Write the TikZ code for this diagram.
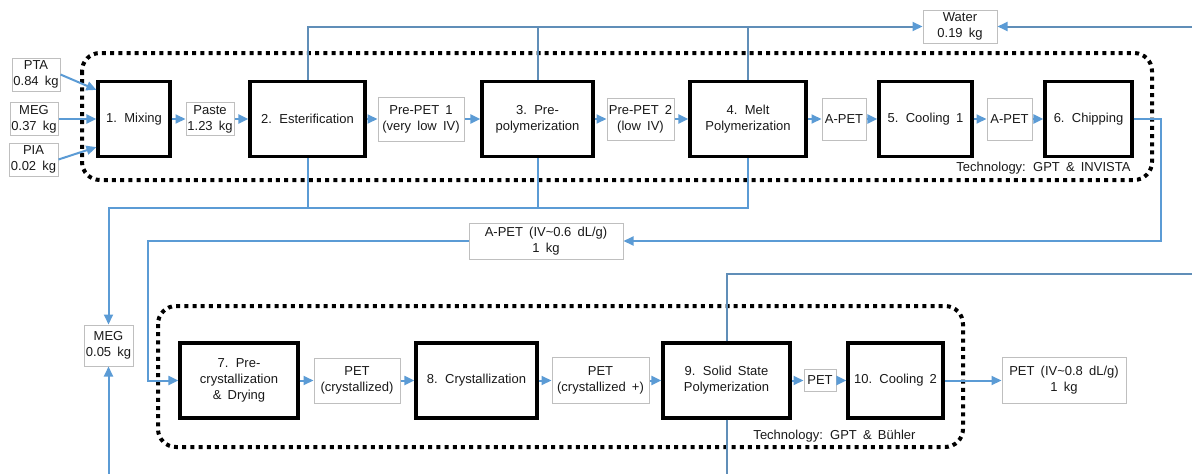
\documentclass[tikz,border=0pt]{standalone}
\usepackage{fontspec}
\setmainfont{Liberation Sans}[WordSpace=1.7]
\usetikzlibrary{arrows.meta}

\definecolor{flow}{RGB}{91,155,213}
\definecolor{wire}{RGB}{96,142,184}
\definecolor{edge}{RGB}{191,191,191}
\definecolor{ink}{RGB}{25,25,25}

\begin{document}
\begin{tikzpicture}[x=1pt,y=-1pt,
	font=\fontsize{13}{16}\selectfont,
	>={Triangle[length=10pt,width=9pt,color=flow]},
	unitbox/.style={draw=black,line width=3.2pt,minimum height=75pt,inner sep=0pt,align=center,text=ink},
	streambox/.style={draw=edge,line width=1pt,inner sep=0pt,align=center,text=ink},
	feed/.style={draw=flow,line width=2pt,->},
	pipe/.style={draw=wire,line width=2pt},
	techframe/.style={draw=black,line width=4pt,dash pattern=on 4pt off 4.2pt,rounded corners=18pt}]
				\useasboundingbox (0,0) rectangle (1192,474);
				
				% technology frames
				\draw[techframe] (82,53) rectangle (1152,180);
				\draw[techframe] (158,306) rectangle (963,447);
				\node[anchor=east,text=ink] (techA) at (1134,168) {Technology: GPT \& INVISTA};
				\node[anchor=east,text=ink] (techB) at (919,436) {Technology: GPT \& Bühler};
				
				% process units
				\foreach \n/\x/\w/\t in
				{mix/134/72/{1. Mixing}, est/307.5/115/{2. Esterification},
				 prepoly/537.5/111/{3. Pre-\\polymerization}, melt/748/116/{4. Melt\\Polymerization},
				 coolA/925.5/93/{5. Cooling 1}, chip/1088.5/87/{6. Chipping}}{
					\node[unitbox,minimum width=\w pt] (\n) at (\x,119) {\t};
				}
				\foreach \n/\x/\w/\t in
				{precry/239/118/{7. Pre-\\crystallization\\\& Drying}, cry/476.5/121/{8. Crystallization},
				 ssp/726.5/127/{9. Solid State\\Polymerization}, coolB/895.5/95/{10. Cooling 2}}{
					\node[unitbox,minimum width=\w pt] (\n) at (\x,380.5) {\t};
				}
				
				% streams
				\foreach \n/\x/\y/\w/\h/\t in
				{pta/36/74.5/48/33/{PTA\\0.84 kg}, megA/34/119/48/33/{MEG\\0.37 kg},
				 pia/33.5/159.5/49/33/{PIA\\0.02 kg}, paste/210/119/48/33/{Paste\\1.23 kg},
				 prepetA/421/119/86/44/{Pre-PET 1\\(very low IV)}, prepetB/640.5/119/67/42/{Pre-PET 2\\(low IV)},
				 apetA/844/119/44/42/{A-PET}, apetB/1009.5/119/45/42/{A-PET},
				 water/960/26.5/74/33/{Water\\0.19 kg}, apetiv/546/241/154/36/{A-PET (IV\textasciitilde 0.6 dL/g)\\1 kg},
				 megB/108.5/345.5/49/41/{MEG\\0.05 kg}, petc/357/380.5/86/45/{PET\\(crystallized)},
				 petcp/600.5/380.5/97/46/{PET\\(crystallized +)}, pet/820/380.5/32/22/{PET},
				 petiv/1064/380.5/124/46/{PET (IV\textasciitilde 0.8 dL/g)\\1 kg}}{
					\node[streambox,minimum width=\w pt,minimum height=\h pt] (\n) at (\x,\y) {\t};
				}
				
				% main line
				\foreach \a/\b in
				{mix/paste, paste/est, est/prepetA, prepetA/prepoly, prepoly/prepetB, prepetB/melt,
				 melt/apetA, apetA/coolA, coolA/apetB, apetB/chip,
				 precry/petc, petc/cry, cry/petcp, petcp/ssp, ssp/pet, pet/coolB, coolB/petiv}{
					\draw[feed] (\a) -- (\b);
				}
				
				% raw materials
				\draw[feed] (pta.east) -- ([yshift=-10pt]mix.north west);
				\draw[feed] (megA) -- (mix);
				\draw[feed] (pia.east) -- ([yshift=11pt]mix.south west);
				
				% water
				\coordinate (wIn) at (1192,26.5);
				\draw[pipe,->] (est.north) |- (water.west);
				\draw[pipe] (prepoly.north) -- (prepoly.north |- water.west);
				\draw[pipe] (melt.north) -- (melt.north |- water.west);
				\draw[pipe,->] (wIn) -- (water.east);
				
				% MEG recycle
				\coordinate (megT) at (108.5,207.5);
				\coordinate (megIn) at (108.5,474);
				\draw[feed] (est.south) |- (megT) -- (megB.north);
				\draw[feed,-] (melt.south) |- (megT);
				\draw[feed,-] (prepoly.south) -- (prepoly.south |- megT);
				\draw[feed] (megIn) -- (megB.south);
				
				% chips to SSP line
				\coordinate (chipT) at (1161,241);
				\coordinate (apetL) at (148,241);
				\draw[feed] (chip.east) -| (chipT) -- (apetiv.east);
				\draw[feed] (apetiv.west) -- (apetL) |- (precry.west);
				
				% SSP gas
				\coordinate (sspOut) at (1192,274);
				\coordinate (sspIn) at (726.5,474);
				\draw[pipe] (ssp.north) |- (sspOut);
				\draw[pipe] (ssp.south) -- (sspIn);
			\end{tikzpicture}
\end{document}
